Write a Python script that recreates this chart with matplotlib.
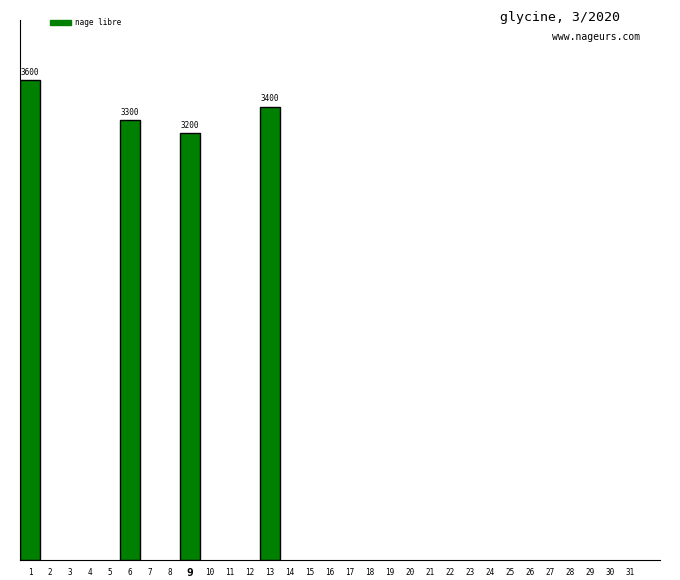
import numpy as np
import matplotlib.pyplot as plt

days = list(range(1, 32))
bar_days = [1, 6, 9, 13]
bar_values = [3600, 3300, 3200, 3400]
series_name = "nage libre"
title = "glycine, 3/2020"
site = "www.nageurs.com"
today = 9

plt.rcParams['font.family'] = 'DejaVu Sans Mono'

fig = plt.figure(figsize=(6.8, 5.8), dpi=100)
ax = fig.add_axes([20/680, 20/580, 640/680, 540/580])

ax.bar(bar_days, bar_values, width=1.0, color='#008000', edgecolor='black', linewidth=1)
for d, v in zip(bar_days, bar_values):
    ax.text(d, v + 25, str(v), ha='center', va='bottom', fontsize=5.5)

ax.set_xlim(0.5, 32.5)
ax.set_ylim(0, max(bar_values) * 1.125)

ax.set_xticks(days)
ax.set_xticklabels([str(d) for d in days])
for lab, d in zip(ax.get_xticklabels(), days):
    if d == today:
        lab.set_fontsize(8)
        lab.set_fontweight('bold')
    else:
        lab.set_fontsize(5.5)
ax.tick_params(axis='x', length=0, pad=6)
ax.set_yticks([])
ax.spines['top'].set_visible(False)
ax.spines['right'].set_visible(False)

# legend patch + text
fig.patches.append(plt.Rectangle((50/680, 1 - 25/580), 21/680, 5/580,
                                 transform=fig.transFigure, color='#008000'))
fig.text(75/680, 1 - 22.5/580, series_name, fontsize=5.5, va='center', ha='left')

fig.text(560/680, 1 - 18/580, title, fontsize=9.5, ha='center', va='center')
fig.text(640/680, 1 - 37/580, site, fontsize=7, ha='right', va='center')

fig.savefig('out.png', dpi=100)
